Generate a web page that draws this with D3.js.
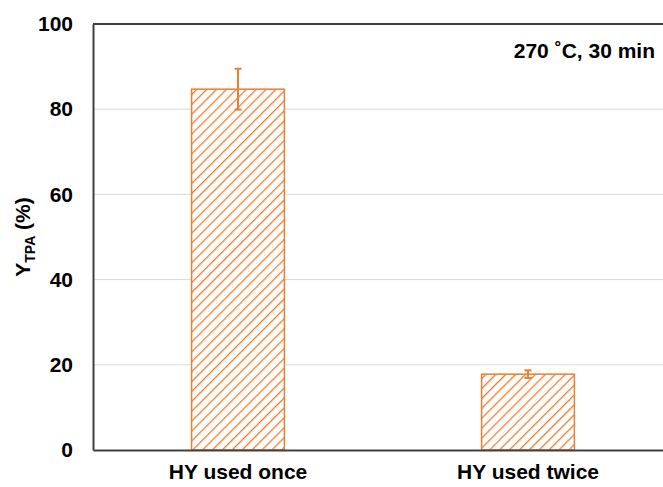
<!DOCTYPE html>
<html>
<head>
<meta charset="utf-8">
<script src="https://cdn.jsdelivr.net/npm/d3@7"></script>
<style>
  body { margin: 0; background: #fff; }
  text { font-family: "Liberation Sans", Arial, sans-serif; font-weight: bold; }
</style>
</head>
<body>
<div class="chart"></div>
<script>
// data
let categories = ['HY used once', 'HY used twice'];
let yields = [84.7, 17.8];
let errors = [4.8, 0.9];
let yTicks = [0, 20, 40, 60, 80, 100];

let W = 663, H = 487;
let margin = { top: 24, right: -10, bottom: 37, left: 93 };
let width = W - margin.left - margin.right;
let height = H - margin.top - margin.bottom;
let orange = '#ed7d31';

let svg = d3.select('.chart')
    .append('svg')
    .attr('width', W)
    .attr('height', H);

// diagonal hatch for the bars
let pat = svg.append('defs').append('pattern')
    .attr('id', 'hatch')
    .attr('patternUnits', 'userSpaceOnUse')
    .attr('width', 7)
    .attr('height', 7)
    .attr('patternTransform', 'rotate(45)');
pat.append('rect').attr('width', 7).attr('height', 7).attr('fill', '#fff');
pat.append('line')
    .attr('x1', 0).attr('y1', 0).attr('x2', 0).attr('y2', 7)
    .attr('stroke', orange)
    .attr('stroke-width', 2.6);

let g = svg.append('g')
    .attr('transform', 'translate(' + margin.left + ',' + margin.top + ')');

let yScale = d3.scaleLinear().domain([0, 100]).range([height, 0]);
let xScale = d3.scaleBand()
    .domain(categories)
    .range([0, width])
    .paddingInner(0.68)
    .paddingOuter(0.34);

// gridlines
g.selectAll('.grid')
    .data(yTicks.filter(d => d > 0 && d < 100))
    .enter()
    .append('line')
    .attr('x1', 0)
    .attr('x2', width)
    .attr('y1', d => yScale(d))
    .attr('y2', d => yScale(d))
    .attr('stroke', '#d9d9d9')
    .attr('stroke-width', 1);

// top border
g.append('line')
    .attr('x1', 0).attr('x2', width)
    .attr('y1', yScale(100)).attr('y2', yScale(100))
    .attr('stroke', '#404040').attr('stroke-width', 2);

// bars
g.selectAll('.bar')
    .data(yields)
    .enter()
    .append('rect')
    .attr('x', (d, i) => xScale(categories[i]))
    .attr('y', d => yScale(d))
    .attr('width', xScale.bandwidth())
    .attr('height', d => height - yScale(d))
    .attr('fill', 'url(#hatch)')
    .attr('stroke', orange)
    .attr('stroke-width', 1.5);

// error bars
let eb = g.selectAll('.eb')
    .data(yields)
    .enter()
    .append('g')
    .attr('transform', (d, i) => 'translate(' + (xScale(categories[i]) + xScale.bandwidth() / 2) + ',0)');
eb.append('line')
    .attr('y1', (d, i) => yScale(d + errors[i]))
    .attr('y2', (d, i) => yScale(d - errors[i]))
    .attr('stroke', orange).attr('stroke-width', 2);
eb.append('line')
    .attr('x1', -3.5).attr('x2', 3.5)
    .attr('y1', (d, i) => yScale(d + errors[i]))
    .attr('y2', (d, i) => yScale(d + errors[i]))
    .attr('stroke', orange).attr('stroke-width', 2);
eb.append('line')
    .attr('x1', -3.5).attr('x2', 3.5)
    .attr('y1', (d, i) => yScale(d - errors[i]))
    .attr('y2', (d, i) => yScale(d - errors[i]))
    .attr('stroke', orange).attr('stroke-width', 2);

// y axis
let yAxis = g.append('g')
    .call(d3.axisLeft(yScale).tickValues(yTicks).tickSize(0).tickPadding(20));
yAxis.select('.domain').attr('stroke', '#404040').attr('stroke-width', 2);
yAxis.selectAll('text')
    .attr('fill', '#000')
    .style('font-size', '21px')
    .style('font-weight', 'bold')
    .style('font-family', '"Liberation Sans", Arial, sans-serif');

// x axis
let xAxis = g.append('g')
    .attr('transform', 'translate(0,' + height + ')')
    .call(d3.axisBottom(xScale).tickSize(0).tickPadding(14));
xAxis.select('.domain').attr('stroke', '#404040').attr('stroke-width', 2);
xAxis.selectAll('text')
    .attr('fill', '#000')
    .style('font-size', '21px')
    .style('font-weight', 'bold')
    .style('font-family', '"Liberation Sans", Arial, sans-serif');

// y label
let yl = svg.append('text')
    .attr('transform', 'translate(30,' + (margin.top + height / 2) + ') rotate(-90)')
    .attr('text-anchor', 'middle')
    .style('font-size', '21px');
yl.append('tspan').text('Y');
yl.append('tspan').attr('dy', 5).style('font-size', '14px').text('TPA');
yl.append('tspan').attr('dy', -5).text(' (%)');

// condition note
svg.append('text')
    .attr('x', 655)
    .attr('y', 58)
    .attr('text-anchor', 'end')
    .style('font-size', '21px')
    .text('270 ˚C, 30 min');
</script>
</body>
</html>
